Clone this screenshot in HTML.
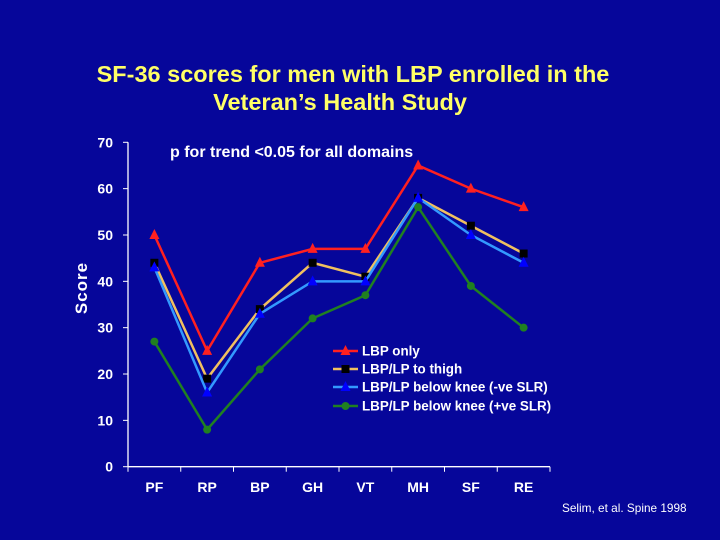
<!DOCTYPE html>
<html><head><meta charset="utf-8"><style>
html,body{margin:0;padding:0;background:#06069a;}
svg{display:block;font-family:"Liberation Sans",sans-serif;font-weight:bold;}
</style></head><body>
<svg id="chart" width="720" height="540">
<rect width="720" height="540" fill="#06069a"/>
<text x="353" y="82" text-anchor="middle" fill="#ffff66" font-size="23.5">SF-36 scores for men with LBP enrolled in the</text>
<text x="340" y="110" text-anchor="middle" fill="#ffff66" font-size="23.5">Veteran’s Health Study</text>
<text x="170" y="157" fill="#fff" font-size="16">p for trend &lt;0.05 for all domains</text>
<text transform="translate(87,288) rotate(-90)" text-anchor="middle" fill="#fff" font-size="17" letter-spacing="1">Score</text>
<text x="562" y="512" fill="#fff" font-size="11.8" font-weight="normal">Selim, et al. Spine 1998</text>
<g id="axes"></g><g id="series"></g><g id="legend"></g>
</svg>
<script>
const categories=["PF","RP","BP","GH","VT","MH","SF","RE"];
const yTicks=[0,10,20,30,40,50,60,70];
const seriesNames=["LBP only","LBP/LP to thigh","LBP/LP below knee (-ve SLR)","LBP/LP below knee (+ve SLR)"];
const lbpOnly=[50,25,44,47,47,65,60,56];
const lpThigh=[44,19,34,44,41,58,52,46];
const belowKneeNeg=[43,16,33,40,40,58,50,44];
const belowKneePos=[27,8,21,32,37,56,39,30];
const NS="http://www.w3.org/2000/svg";
const x0=128,x1=550,y0=466.7,y1=142.3,ymax=70;
const bw=(x1-x0)/categories.length;
const X=i=>x0+bw*(i+0.5);
const Y=v=>y0-(v/ymax)*(y0-y1);
function mk(tag,attrs,parent){const e=document.createElementNS(NS,tag);for(const k in attrs)e.setAttribute(k,attrs[k]);parent.appendChild(e);return e;}
const axes=document.getElementById('axes');
let e=mk('line',{x1:x0,y1:y0,x2:x0,y2:y1,stroke:'#fff','stroke-width':1.3},axes);


e=mk('line',{x1:x0,y1:y0,x2:x1,y2:y0,stroke:'#fff','stroke-width':1.3},axes);


yTicks.forEach(t=>{
 const l=mk('line',{x1:x0-5,y1:Y(t),x2:x0,y2:Y(t),stroke:'#fff'},axes);
 
 
 const tx=mk('text',{x:x0-15,y:Y(t)+5,'text-anchor':'end',fill:'#fff','font-size':14},axes);
 tx.textContent=t;
 
 
});
for(let i=0;i<=categories.length;i++){
 const l=mk('line',{x1:x0+bw*i,y1:y0,x2:x0+bw*i,y2:y0+5,stroke:'#fff'},axes);
 
 
}
categories.forEach((c,i)=>{
 const tx=mk('text',{x:X(i),y:492,'text-anchor':'middle',fill:'#fff','font-size':14},axes);
 tx.textContent=c;
 
 
});
const data=[lbpOnly,lpThigh,belowKneeNeg,belowKneePos];
const lineCols=['#ff2020','#f0c060','#3399ff','#208020'];
const markCols=['#ff2020','#000000','#0000ff','#208020'];
const shapes=['tri','sq','tri','circ'];
const sg=document.getElementById('series');
function marker(shape,x,y,col,g){
 if(shape==='tri') return mk('polygon',{points:`${x},${y-6} ${x-5},${y+4} ${x+5},${y+4}`,fill:col},g);
 if(shape==='sq') return mk('rect',{x:x-4,y:y-4,width:8,height:8,fill:col},g);
 return mk('circle',{cx:x,cy:y,r:4,fill:col},g);
}
data.forEach((d,s)=>{
 const g=mk('g',{},sg);
 
 
 const p=mk('polyline',{points:d.map((v,i)=>X(i)+','+Y(v)).join(' '),fill:'none',stroke:lineCols[s],'stroke-width':2.5},g);
 
 
 d.forEach((v,i)=>{
  const m=marker(shapes[s],X(i),Y(v),markCols[s],g);
  
  
 });
});
const lg=document.getElementById('legend');
const ly=[351,369,387,406];
seriesNames.forEach((n,s)=>{
 const g=mk('g',{},lg);
 
 
 mk('line',{x1:333,y1:ly[s],x2:358,y2:ly[s],stroke:lineCols[s],'stroke-width':2.5},g);
 marker(shapes[s],345.5,ly[s],markCols[s],g);
 const t=mk('text',{x:362,y:ly[s]+4.5,fill:'#fff','font-size':13.4},g);
 t.textContent=n;
});
</script>
</body></html>
